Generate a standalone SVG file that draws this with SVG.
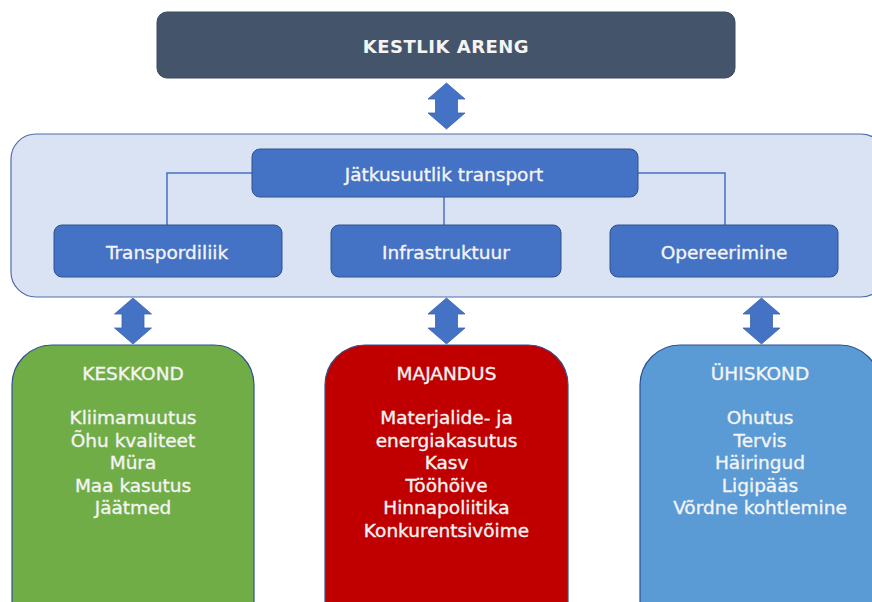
<svg xmlns="http://www.w3.org/2000/svg" width="872" height="602" viewBox="0 0 872 602">
  <style>
    text { font-family: "DejaVu Sans", Verdana, sans-serif; font-size: 18.5px; fill: #f4f4f4; stroke: #f4f4f4; stroke-width: 0.35; text-anchor: middle; }
    .title { font-weight: bold; font-size: 18px; letter-spacing: 0.5px; stroke-width: 0; }
    .box { fill: #4472c4; stroke: #2f528f; stroke-width: 1; }
    .link { fill: none; stroke: #4472c4; stroke-width: 1.5; }
    .arrow { fill: #4472c4; stroke: #3a63ad; stroke-width: 0.8; }
    .pillar { stroke: #2f528f; stroke-width: 1.2; }
  </style>
  <defs>
    <!-- double-headed block arrow, centred on x=0, from y=0 to y=46 -->
    <polygon id="dbl" class="arrow" points="0,0 18.5,16 11,16 11,30 18.5,30 0,46 -18.5,30 -11,30 -11,16 -18.5,16"/>
  </defs>

  <rect width="872" height="602" fill="#ffffff"/>

  <!-- top goal -->
  <g id="kestlik-areng">
    <rect x="157" y="12" width="578" height="66" rx="10" fill="#44546a" stroke="#3b4a5f" stroke-width="1"/>
    <text class="title" x="446" y="52.5">KESTLIK ARENG</text>
  </g>

  <!-- transport panel -->
  <g id="transport-panel">
    <rect x="11" y="134" width="875" height="163" rx="25" fill="#dae3f3" stroke="#4f6fa8" stroke-width="1.2"/>
  </g>

  <!-- tree connectors and link arrows -->
  <g id="connectors">
    <polyline class="link" points="252,173 167,173 167,225"/>
    <polyline class="link" points="638,173 725,173 725,225"/>
    <line class="link" x1="444" y1="197" x2="444" y2="225"/>
    <use href="#dbl" x="446.5" y="83"/>
    <use href="#dbl" x="133" y="298"/>
    <use href="#dbl" x="446.5" y="298"/>
    <use href="#dbl" x="761.5" y="298"/>
  </g>

  <g id="jatkusuutlik-transport">
    <rect class="box" x="252" y="149" width="386" height="48" rx="8"/>
    <text x="444" y="180.5">Jätkusuutlik transport</text>
  </g>
  <g id="transpordiliik">
    <rect class="box" x="54" y="225" width="228" height="52" rx="8"/>
    <text x="167" y="258.5">Transpordiliik</text>
  </g>
  <g id="infrastruktuur">
    <rect class="box" x="331" y="225" width="230" height="52" rx="8"/>
    <text x="446" y="258.5">Infrastruktuur</text>
  </g>
  <g id="opereerimine">
    <rect class="box" x="610" y="225" width="228" height="52" rx="8"/>
    <text x="724" y="258.5">Opereerimine</text>
  </g>

  <!-- three pillars -->
  <g id="keskkond">
    <rect class="pillar" x="12" y="345" width="242" height="300" rx="40" fill="#70ad47"/>
    <text x="133" y="380">KESKKOND</text>
    <text x="133" y="424">Kliimamuutus</text>
    <text x="133" y="446.6">Õhu kvaliteet</text>
    <text x="133" y="469.2">Müra</text>
    <text x="133" y="491.8">Maa kasutus</text>
    <text x="133" y="514.4">Jäätmed</text>
  </g>
  <g id="majandus">
    <rect class="pillar" x="325" y="345" width="243" height="300" rx="40" fill="#c00000"/>
    <text x="446.5" y="380">MAJANDUS</text>
    <text x="446.5" y="424">Materjalide- ja</text>
    <text x="446.5" y="446.6">energiakasutus</text>
    <text x="446.5" y="469.2">Kasv</text>
    <text x="446.5" y="491.8">Tööhõive</text>
    <text x="446.5" y="514.4">Hinnapoliitika</text>
    <text x="446.5" y="537">Konkurentsivõime</text>
  </g>
  <g id="uhiskond">
    <rect class="pillar" x="640" y="345" width="240" height="300" rx="40" fill="#5b9bd5"/>
    <text x="760" y="380">ÜHISKOND</text>
    <text x="760" y="424">Ohutus</text>
    <text x="760" y="446.6">Tervis</text>
    <text x="760" y="469.2">Häiringud</text>
    <text x="760" y="491.8">Ligipääs</text>
    <text x="760" y="514.4">Võrdne kohtlemine</text>
  </g>
</svg>
